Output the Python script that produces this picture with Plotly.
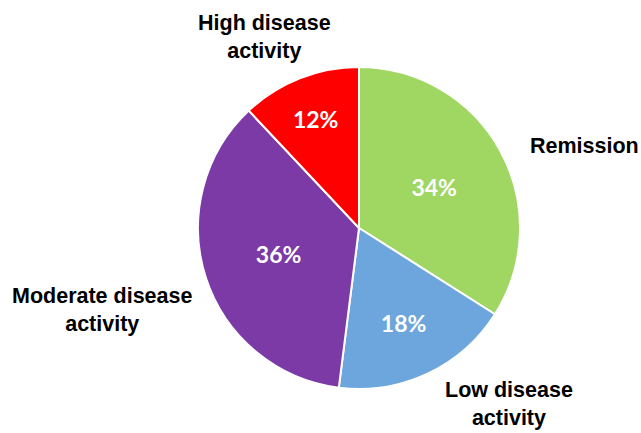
import plotly.graph_objects as go

categories = ["Remission", "Low disease<br>activity", "Moderate disease<br>activity", "High disease<br>activity"]
values = [34, 18, 36, 12]
colors = ["#A0D662", "#6CA6DC", "#7B3AA6", "#FF0000"]

W, H = 641, 433
cx, cy, r = 359, 228, 161

# label placement (pixel centres) for the outside category labels
label_pos = [(584, 146), (509, 404), (102, 310), (264, 37)]

fig = go.Figure(go.Pie(
    values=values,
    labels=categories,
    sort=False,
    direction="clockwise",
    rotation=0,
    marker=dict(colors=colors, line=dict(color="white", width=2)),
    texttemplate="%{percent:.0%}",
    textposition="inside",
    insidetextorientation="horizontal",
    textfont=dict(family="Lato", size=23, color="white", weight="bold"),
    hoverinfo="label+percent",
    showlegend=False,
    domain=dict(x=[(cx - r) / W, (cx + r) / W], y=[1 - (cy + r) / H, 1 - (cy - r) / H]),
))

for lab, (px, py) in zip(categories, label_pos):
    fig.add_annotation(
        x=px / W, y=1 - py / H, xref="paper", yref="paper",
        text="<b>" + lab + "</b>", showarrow=False,
        xanchor="center", yanchor="middle",
        font=dict(family="Liberation Sans, Arial", size=21.5, color="black"),
    )

fig.update_layout(
    width=W, height=H,
    margin=dict(l=0, r=0, t=0, b=0),
    paper_bgcolor="white", plot_bgcolor="white",
)

fig.write_html(
    "out.html",
    config={"displayModeBar": False},
    post_script="document.body.style.margin='0';document.body.style.overflow='hidden';",
)
